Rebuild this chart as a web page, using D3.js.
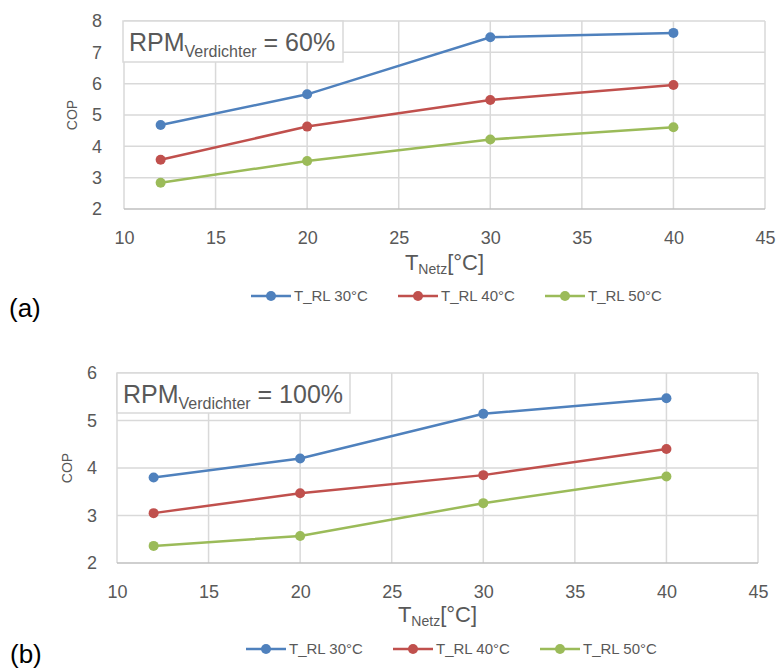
<!DOCTYPE html>
<html>
<head>
<meta charset="utf-8">
<script src="https://cdn.jsdelivr.net/npm/d3@7"></script>
<style>
  body { margin: 0; background: #fff; }
  svg { display: block; font-family: "Liberation Sans", Arial, sans-serif; }
</style>
</head>
<body>
<svg id="chart" width="776" height="671"></svg>
<script>
// x values (T_Netz in °C) shared by both panels
const tNetz = [12, 20, 30, 40];
const seriesNames = ["T_RL 30°C", "T_RL 40°C", "T_RL 50°C"];
const seriesColors = ["#4f81bd", "#c0504d", "#9bbb59"];

// panel (a): compressor speed 60%
const cop60_rl30 = [4.68, 5.66, 7.48, 7.62];
const cop60_rl40 = [3.57, 4.63, 5.48, 5.96];
const cop60_rl50 = [2.84, 3.53, 4.22, 4.61];

// panel (b): compressor speed 100%
const cop100_rl30 = [3.80, 4.20, 5.14, 5.47];
const cop100_rl40 = [3.05, 3.47, 3.85, 4.40];
const cop100_rl50 = [2.36, 2.57, 3.26, 3.82];

const xTicks = [10, 15, 20, 25, 30, 35, 40, 45];
const yTicksA = [2, 3, 4, 5, 6, 7, 8];
const yTicksB = [2, 3, 4, 5, 6];

const svg = d3.select("#chart");
const textColor = "#595959";
const gridColor = "#d9d9d9";

function drawPanel(cfg) {
  const g = svg.append("g");
  const x = d3.scaleLinear().domain([10, 45]).range([cfg.left, cfg.right]);
  const y = d3.scaleLinear().domain(d3.extent(cfg.yTicks)).range([cfg.bottom, cfg.top]);

  // grid lines
  g.append("g").selectAll("line")
    .data(xTicks)
    .join("line")
    .attr("x1", d => x(d)).attr("x2", d => x(d))
    .attr("y1", cfg.top).attr("y2", cfg.bottom)
    .attr("stroke", gridColor).attr("stroke-width", 1.5);
  g.append("g").selectAll("line")
    .data(cfg.yTicks)
    .join("line")
    .attr("x1", cfg.left).attr("x2", cfg.right)
    .attr("y1", d => y(d)).attr("y2", d => y(d))
    .attr("stroke", d => d === cfg.yTicks[0] ? "#bfbfbf" : gridColor)
    .attr("stroke-width", 1.5);

  // axes (labels only)
  const xAxis = g.append("g")
    .attr("transform", `translate(0,${cfg.bottom + 22})`)
    .call(d3.axisBottom(x).tickValues(xTicks).tickFormat(d3.format("d")).tickSize(0).tickPadding(0));
  xAxis.select(".domain").remove();
  xAxis.selectAll("text").attr("font-size", 18).attr("fill", textColor)
    .attr("font-family", "Liberation Sans, Arial, sans-serif");

  const yAxis = g.append("g")
    .attr("transform", `translate(${cfg.yLabelX},0)`)
    .call(d3.axisLeft(y).tickValues(cfg.yTicks).tickFormat(d3.format("d")).tickSize(0).tickPadding(0));
  yAxis.select(".domain").remove();
  yAxis.selectAll("text").attr("font-size", 18).attr("fill", textColor)
    .attr("font-family", "Liberation Sans, Arial, sans-serif");

  // axis titles
  g.append("text")
    .attr("transform", `translate(${cfg.copX},${(cfg.top + cfg.bottom) / 2}) rotate(-90)`)
    .attr("text-anchor", "middle")
    .attr("dy", "0.35em")
    .attr("font-size", 14)
    .attr("fill", textColor)
    .text("COP");

  const xt = g.append("text")
    .attr("x", (cfg.left + cfg.right) / 2)
    .attr("y", cfg.xTitleY)
    .attr("text-anchor", "middle")
    .attr("font-size", 22)
    .attr("fill", textColor);
  xt.append("tspan").text("T");
  xt.append("tspan").attr("font-size", 14).attr("dy", 4).text("Netz");
  xt.append("tspan").attr("dy", -4).text("[°C]");

  // series lines + markers
  const line = d3.line().x((d, i) => x(tNetz[i])).y(d => y(d));
  cfg.series.forEach((vals, si) => {
    g.append("path")
      .datum(vals)
      .attr("d", line)
      .attr("fill", "none")
      .attr("stroke", seriesColors[si])
      .attr("stroke-width", 2.5);
    g.append("g").selectAll("circle")
      .data(vals)
      .join("circle")
      .attr("cx", (d, i) => x(tNetz[i]))
      .attr("cy", d => y(d))
      .attr("r", 5)
      .attr("fill", seriesColors[si]);
  });

  // label box
  g.append("rect")
    .attr("x", cfg.box[0]).attr("y", cfg.box[1])
    .attr("width", cfg.box[2]).attr("height", cfg.box[3])
    .attr("fill", "#fff").attr("stroke", gridColor).attr("stroke-width", 1.5);
  const bt = g.append("text")
    .attr("x", cfg.box[0] + 6)
    .attr("y", cfg.box[1] + 30)
    .attr("font-size", 25)
    .attr("fill", textColor);
  bt.append("tspan").text("RPM");
  bt.append("tspan").attr("font-size", 16).attr("dy", 6).text("Verdichter");
  bt.append("tspan").attr("dy", -6).text(" = " + cfg.rpm);

  // legend
  const leg = g.append("g").selectAll("g")
    .data(seriesNames)
    .join("g")
    .attr("transform", (d, i) => `translate(${cfg.legendX + i * 147},${cfg.legendY})`);
  leg.append("line")
    .attr("x1", 0).attr("x2", 40)
    .attr("stroke", (d, i) => seriesColors[i]).attr("stroke-width", 2.5);
  leg.append("circle")
    .attr("cx", 20).attr("r", 5)
    .attr("fill", (d, i) => seriesColors[i]);
  leg.append("text")
    .attr("x", 43).attr("dy", "0.35em")
    .attr("font-size", 15)
    .attr("fill", textColor)
    .text(d => d);

  svg.append("text")
    .attr("x", cfg.tagX).attr("y", cfg.tagY)
    .attr("font-size", 26)
    .attr("fill", "#000")
    .text(cfg.tag);
}

drawPanel({
  left: 124, right: 765, top: 21, bottom: 209,
  yTicks: yTicksA, yLabelX: 102, copX: 72,
  xTitleY: 270,
  series: [cop60_rl30, cop60_rl40, cop60_rl50],
  box: [123, 21, 220, 41], rpm: "60%",
  legendX: 251, legendY: 296,
  tag: "(a)", tagX: 9, tagY: 317
});

drawPanel({
  left: 117, right: 758, top: 373, bottom: 563,
  yTicks: yTicksB, yLabelX: 97, copX: 67,
  xTitleY: 622,
  series: [cop100_rl30, cop100_rl40, cop100_rl50],
  box: [117, 373, 233, 40], rpm: "100%",
  legendX: 246, legendY: 649,
  tag: "(b)", tagX: 10, tagY: 663
});
</script>
</body>
</html>
